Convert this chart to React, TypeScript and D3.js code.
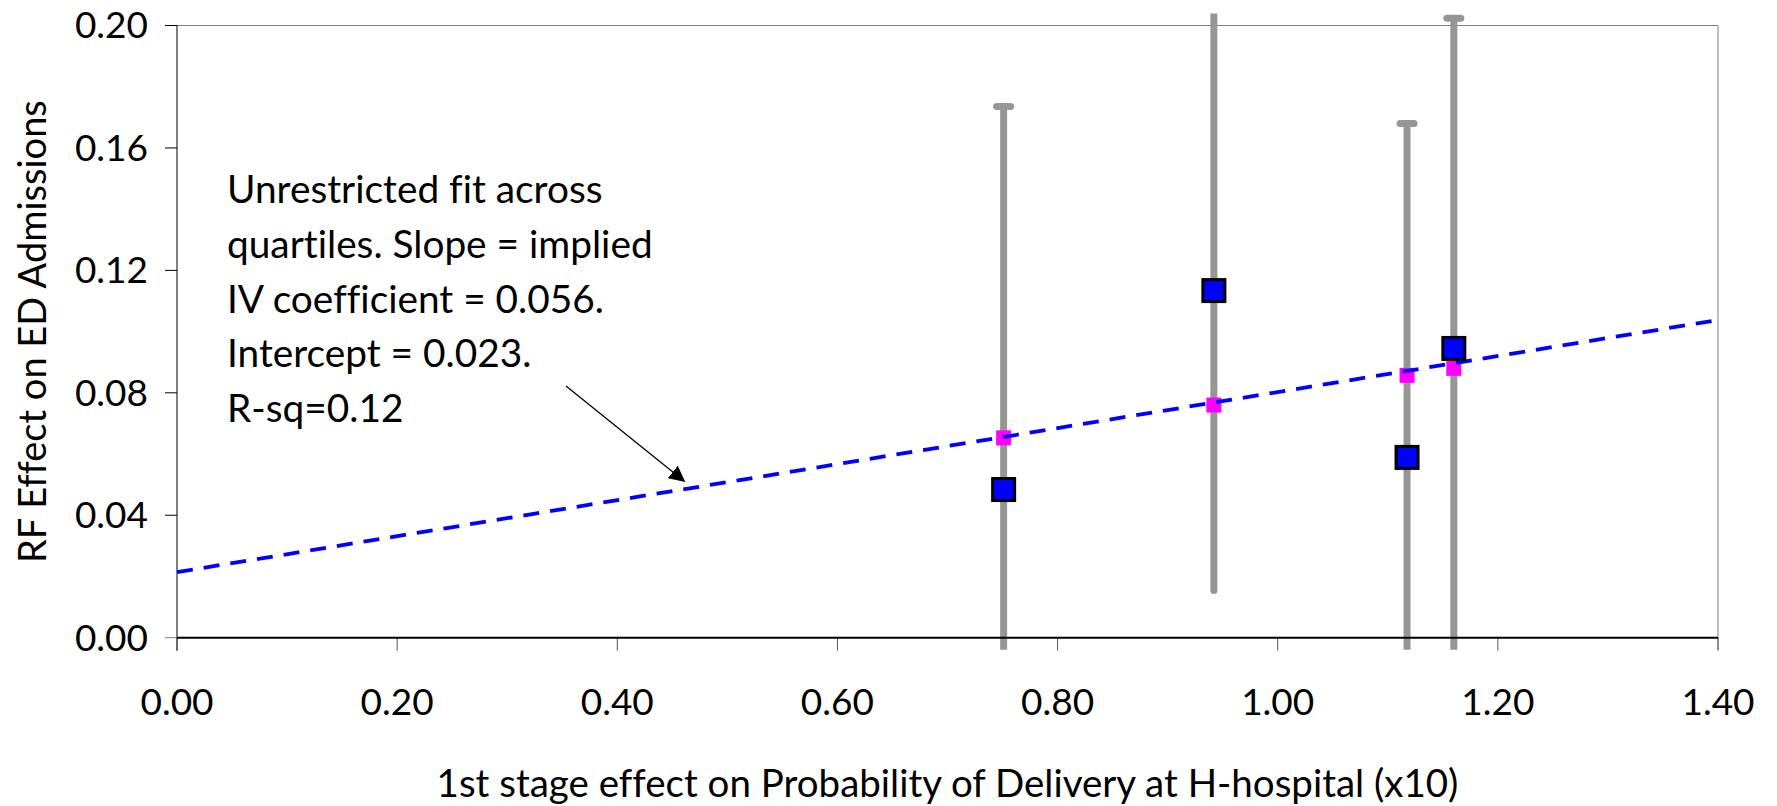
import React, { useEffect } from 'react';
import * as d3 from 'd3';

// quartile estimates
const firstStage = [0.751, 0.942, 1.1175, 1.16];
const rfEffect = [0.0484, 0.1134, 0.0589, 0.0945];
const fitted = [0.0653, 0.076, 0.0857, 0.088];
const errLow = [-0.0767, 0.0154, -0.05, -0.013];
const errHigh = [0.1735, 0.2114, 0.168, 0.2024];

const trendX = [0, 1.395];
const trendY = [0.0214, 0.1035];

const xTicks = [0, 0.2, 0.4, 0.6, 0.8, 1.0, 1.2, 1.4];
const yTicks = [0, 0.04, 0.08, 0.12, 0.16, 0.2];

const noteLines = [
  'Unrestricted fit across',
  'quartiles. Slope = implied',
  'IV coefficient = 0.056.',
  'Intercept = 0.023.',
  'R-sq=0.12',
];

const W = 1777;
const H = 806;
const m = { left: 177, right: 59, top: 25.5, bottom: 168.3 };
const FONT = 'Lato, "Open Sans", sans-serif';

export default function App() {
  useEffect(() => {
    document.body.style.margin = '0';
  }, []);

  const x = d3.scaleLinear().domain([0, 1.4]).range([m.left, W - m.right]);
  const y = d3.scaleLinear().domain([0, 0.2]).range([H - m.bottom, m.top]);
  const x0 = x(0), x1 = x(1.4), y0 = y(0), y1 = y(0.2);

  const line = d3.line<number>().x((d, i) => x(trendX[i])).y(d => y(d));

  const gray = '#969696';

  return (
    <svg width={W} height={H}
      style={{ display: 'block', fontFamily: FONT, fontVariantLigatures: 'none' }}>
      <defs>
        <clipPath id="errclip">
          <rect x={x0 - 40} y={y1 - 12} width={x1 - x0 + 80} height={y0 - y1 + 24} />
        </clipPath>
        <marker id="arrow" viewBox="0 0 10 10" refX="9" refY="5" markerWidth="16" markerHeight="16"
          markerUnits="userSpaceOnUse" orient="auto">
          <path d="M0,0 L10,5 L0,10 z" fill="#000" />
        </marker>
      </defs>

      {/* frame */}
      <line x1={x0} x2={x1} y1={y1} y2={y1} stroke="#808080" strokeWidth={1} />
      <line x1={x1} x2={x1} y1={y1} y2={y0 + 12} stroke="#808080" strokeWidth={1} />

      {/* y axis */}
      {yTicks.map(t => (
        <g key={'y' + t}>
          <line x1={x0 - 12} x2={x0} y1={y(t)} y2={y(t)} stroke={t === 0 ? '#808080' : '#000'} strokeWidth={1} />
          <text x={x0 - 29} y={y(t)} dy="0.35em" textAnchor="end" fontSize={37} fill="#000">
            {d3.format('.2f')(t)}
          </text>
        </g>
      ))}
      <line x1={x0} x2={x0} y1={y1} y2={y0 + 13} stroke="#000" strokeWidth={1} />

      {/* x axis */}
      {xTicks.map(t => (
        <g key={'x' + t}>
          <line x1={x(t)} x2={x(t)} y1={y0} y2={y0 + 13} stroke="#555" strokeWidth={1} />
          <text x={x(t)} y={715} textAnchor="middle" fontSize={37} fill="#000">
            {d3.format('.2f')(t)}
          </text>
        </g>
      ))}

      {/* error bars */}
      <g clipPath="url(#errclip)">
        {firstStage.map((fx, i) => (
          <g key={'e' + i}>
            <line x1={x(fx)} x2={x(fx)} y1={y(errLow[i])} y2={y(errHigh[i])}
              stroke={gray} strokeWidth={7} strokeLinecap="round" />
            <line x1={x(fx) - 7} x2={x(fx) + 7} y1={y(errHigh[i])} y2={y(errHigh[i])}
              stroke={gray} strokeWidth={7} strokeLinecap="round" />
          </g>
        ))}
      </g>
      <line x1={x0} x2={x1} y1={y0} y2={y0} stroke="#000" strokeWidth={2} />

      {/* fitted values */}
      {firstStage.map((fx, i) => (
        <rect key={'f' + i} x={x(fx) - 7.5} y={y(fitted[i]) - 7.5} width={15} height={15} fill="#ff00ff" />
      ))}

      {/* trend line */}
      <path d={line(trendY) || ''} fill="none" stroke="#0000ff" strokeWidth={3.8} strokeDasharray="16 11" />

      {/* reduced form estimates */}
      {firstStage.map((fx, i) => (
        <rect key={'p' + i} x={x(fx) - 11} y={y(rfEffect[i]) - 11} width={22} height={22}
          fill="#0000ff" stroke="#000" strokeWidth={3} />
      ))}

      {/* annotation */}
      {noteLines.map((s, i) => (
        <text key={'n' + i} x={227} y={203.3 + i * 54.6} fontSize={38.8} fill="#000">{s}</text>
      ))}
      <line x1={566} y1={386} x2={684} y2={481} stroke="#000" strokeWidth={1.3} markerEnd="url(#arrow)" />

      {/* axis titles */}
      <text x={(x0 + x1) / 2} y={797} textAnchor="middle" fontSize={38.5} fill="#000">
        1st stage effect on Probability of Delivery at H-hospital (x10)
      </text>
      <text transform={`translate(46,${(y0 + y1) / 2}) rotate(-90)`} textAnchor="middle" fontSize={38} fill="#000">
        RF Effect on ED Admissions
      </text>
    </svg>
  );
}
